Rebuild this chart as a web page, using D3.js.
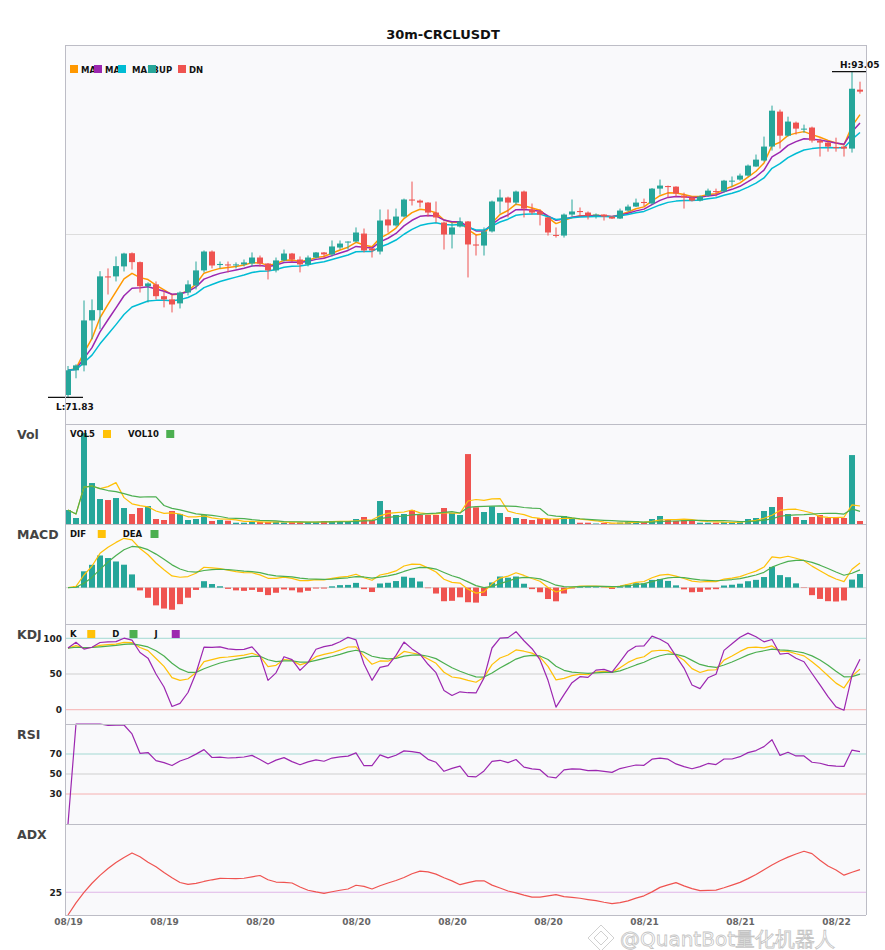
<!DOCTYPE html>
<html>
<head>
<meta charset="utf-8">
<script src="https://cdn.jsdelivr.net/npm/d3@7"></script>
<style>
  body { margin: 0; background: #fff; }
  text { font-family: "DejaVu Sans", sans-serif; }
</style>
</head>
<body>
<svg id="chart" width="885" height="950"></svg>
<script>
// ---- data (30m candles) ----
var opens = [
  71.98, 73.59, 73.91, 76.84, 77.51, 79.71, 79.71, 80.36, 81.22, 80.64,
  79.07, 79.19, 78.42, 78.21, 77.95, 78.66, 79.12, 80.10, 81.33, 80.45,
  80.49, 80.45, 80.49, 80.55, 80.94, 80.55, 80.10, 80.75, 81.20, 80.81,
  80.49, 80.94, 81.27, 81.14, 81.59, 81.95, 81.98, 82.50, 81.53, 81.33,
  83.42, 83.03, 83.61, 84.72, 84.65, 84.52, 83.87, 83.22, 82.44, 82.96,
  83.29, 81.79, 81.72, 82.64, 84.59, 84.85, 84.52, 85.24, 84.07, 83.94,
  83.55, 82.41, 82.37, 83.74, 83.97, 83.87, 83.68, 83.74, 83.61, 83.48,
  84.00, 84.26, 84.56, 84.46, 85.43, 85.60, 85.56, 84.98, 84.85, 84.65,
  84.98, 85.27, 85.24, 85.92, 86.02, 86.28, 86.87, 87.26, 88.17, 90.45,
  88.88, 89.73, 89.31, 89.41, 88.56, 88.43, 88.14, 88.17, 88.04, 91.88
];
var highs = [
  73.87, 73.98, 78.14, 78.21, 80.05, 80.23, 81.01, 81.25, 81.27, 80.68,
  79.32, 79.38, 78.73, 78.53, 78.73, 79.45, 80.68, 81.40, 81.40, 80.68,
  80.68, 80.62, 80.81, 81.27, 81.07, 80.58, 80.94, 81.46, 81.24, 81.01,
  81.07, 81.30, 81.30, 82.05, 82.05, 81.99, 82.90, 82.83, 81.56, 84.07,
  84.07, 84.13, 84.78, 85.89, 84.72, 84.55, 84.59, 83.29, 83.22, 83.55,
  83.32, 82.44, 82.90, 84.65, 85.37, 84.91, 85.30, 85.30, 84.46, 84.07,
  83.58, 82.90, 83.81, 84.72, 84.20, 83.94, 83.81, 83.76, 83.63, 84.13,
  84.39, 84.78, 84.78, 85.47, 86.02, 85.63, 85.58, 85.17, 84.91, 84.98,
  85.43, 85.43, 86.00, 86.22, 86.41, 87.00, 87.65, 88.82, 90.84, 90.58,
  90.12, 89.80, 89.60, 89.47, 88.69, 88.49, 88.75, 88.23, 93.05, 92.40
];
var lows = [
  71.83, 73.07, 73.52, 75.61, 76.26, 78.53, 79.38, 80.03, 80.16, 78.66,
  78.01, 78.21, 77.69, 77.36, 77.62, 78.47, 78.86, 79.97, 80.23, 80.23,
  79.97, 80.23, 80.36, 80.36, 80.36, 79.51, 79.97, 80.68, 80.62, 79.97,
  80.36, 80.88, 80.88, 81.01, 81.46, 81.46, 81.92, 81.27, 80.94, 81.14,
  82.57, 82.96, 83.55, 84.33, 84.20, 83.61, 83.22, 81.46, 81.53, 82.90,
  79.64, 81.07, 81.07, 82.57, 83.81, 83.55, 84.39, 83.55, 83.74, 83.03,
  82.37, 82.24, 82.24, 83.61, 83.61, 83.42, 83.48, 83.35, 83.45, 83.45,
  83.94, 84.23, 84.26, 84.39, 85.04, 84.85, 84.91, 84.13, 84.59, 84.59,
  84.91, 84.91, 85.17, 85.56, 85.95, 86.22, 86.85, 87.19, 87.91, 88.04,
  88.82, 88.95, 89.08, 88.43, 87.52, 87.84, 87.84, 87.52, 87.78, 91.62
];
var closes = [
  73.59, 73.91, 76.84, 77.51, 79.71, 79.64, 80.38, 81.20, 80.64, 79.07,
  79.25, 78.42, 78.21, 77.88, 78.66, 79.19, 80.10, 81.33, 80.42, 80.52,
  80.42, 80.49, 80.62, 80.94, 80.55, 80.10, 80.75, 81.20, 80.81, 80.49,
  80.94, 81.27, 81.14, 81.66, 81.85, 81.98, 82.57, 81.40, 81.40, 83.35,
  83.03, 83.61, 84.72, 84.65, 84.52, 83.87, 83.55, 82.44, 82.90, 83.29,
  81.79, 81.72, 82.64, 84.59, 84.85, 84.52, 85.24, 84.13, 83.87, 83.74,
  82.57, 82.37, 83.74, 83.94, 83.90, 83.68, 83.74, 83.61, 83.48, 84.00,
  84.26, 84.52, 84.49, 85.43, 85.63, 85.53, 85.11, 84.85, 84.65, 84.91,
  85.30, 85.21, 85.95, 85.95, 86.28, 86.93, 87.32, 88.17, 90.51, 88.88,
  89.80, 89.34, 89.34, 88.56, 88.43, 88.17, 88.07, 88.04, 91.94, 91.75
];
// volume in thousands
var volumes = [
  14, 6, 91, 41, 25, 24, 26, 16, 10, 16,
  18, 5, 4, 13, 10, 4, 5, 9, 3, 4,
  3.3, 1.3, 1.3, 3, 2, 2, 2, 1.5, 2, 2,
  2, 2, 3, 3, 3, 2, 5, 7, 4, 23,
  14, 9, 10, 14, 9, 9, 9, 16, 11, 9,
  70, 16.7, 12, 17.7, 11, 7, 6, 5, 4, 6,
  5, 5, 8, 5, 1.3, 1.3, 0.5, 1, 0.5, 1.5,
  2, 3, 2, 5, 8, 4, 3, 4, 3, 1.3,
  1.3, 1.3, 2, 2, 3, 5, 6, 13, 17, 27,
  10, 7, 4, 7, 9, 6, 6, 6, 69, 3
];
var tickIdx = [0, 12, 24, 36, 48, 60, 72, 84, 96];
var tickLabels = ["08/19", "08/19", "08/20", "08/20", "08/20", "08/20", "08/21", "08/21", "08/22"];
var maPeriods = [5, 8, 13];
var macdPeriods = [6, 13, 5];

// ---- indicator helpers ----
// recursive ema seeded with the first value
function ema(arr, n) {
  var a = 2 / (n + 1), out = [];
  arr.forEach(function (v, i) { out.push(i === 0 ? v : out[i - 1] + a * (v - out[i - 1])); });
  return out;
}
// weighted ema (pandas-style adjust=True)
function ewmAdj(arr, alpha) {
  var num = 0, den = 0;
  return arr.map(function (v) {
    num = v + (1 - alpha) * num; den = 1 + (1 - alpha) * den;
    return num / den;
  });
}
function sma(arr, n) {
  return arr.map(function (v, i) { return d3.mean(arr.slice(Math.max(0, i - n + 1), i + 1)); });
}

var N = closes.length;
var isUp = closes.map(function (c, i) { return c >= opens[i]; });
var maLines = maPeriods.map(function (p) { return ema(closes, p); });
var vol5 = sma(volumes, 5), vol10 = sma(volumes, 10);

var emaFast = ema(closes, macdPeriods[0]), emaSlow = ema(closes, macdPeriods[1]);
var dif = emaFast.map(function (v, i) { return v - emaSlow[i]; });
var dea = ema(dif, macdPeriods[2]);
var hist = dif.map(function (v, i) { return 2 * (v - dea[i]); });

var rsv = closes.map(function (c, i) {
  var lo = d3.min(lows.slice(Math.max(0, i - 8), i + 1)),
      hi = d3.max(highs.slice(Math.max(0, i - 8), i + 1));
  return hi === lo ? 50 : (c - lo) / (hi - lo) * 100;
});
var kLine = [], dLine = [], jLine = [];
rsv.forEach(function (r, i) {
  var k = i === 0 ? r : kLine[i - 1] * 2 / 3 + r / 3;
  var d = i === 0 ? k : dLine[i - 1] * 2 / 3 + k / 3;
  kLine.push(k); dLine.push(d); jLine.push(3 * k - 2 * d);
});

// RSI 14, weighted averages of gains / losses
var gains = [], losses = [];
for (var i = 1; i < N; i++) {
  var ch = closes[i] - closes[i - 1];
  gains.push(Math.max(ch, 0)); losses.push(Math.max(-ch, 0));
}
var ag = ewmAdj(gains, 1 / 14), al = ewmAdj(losses, 1 / 14);
var rsi = [0].concat(ag.map(function (g, i) { return al[i] === 0 ? 100 : 100 - 100 / (1 + g / al[i]); }));

var tr = [], pdm = [], mdm = [];
for (var i = 0; i < N; i++) {
  if (i === 0) { tr.push(highs[0] - lows[0]); pdm.push(0); mdm.push(0); continue; }
  var up = highs[i] - highs[i - 1], dn = lows[i - 1] - lows[i];
  pdm.push(up > dn && up > 0 ? up : 0);
  mdm.push(dn > up && dn > 0 ? dn : 0);
  tr.push(Math.max(highs[i] - lows[i], Math.abs(highs[i] - closes[i - 1]), Math.abs(lows[i] - closes[i - 1])));
}
var sTr = ema(tr, 14), sP = ema(pdm, 14), sM = ema(mdm, 14);
var dx = sTr.map(function (t, i) {
  var pdi = 100 * sP[i] / t, mdi = 100 * sM[i] / t, s = pdi + mdi;
  return s ? 100 * Math.abs(pdi - mdi) / s : 0;
});
var adx = ema(dx, 14);

// ---- layout ----
var LEFT = 65, RIGHT = 866;
var P = {
  main: [45, 424], vol: [424, 524], macd: [524, 624],
  kdj: [624, 724], rsi: [724, 824], adx: [824, 915]
};
var UP = "#26a69a", DN = "#ef5350";
var maColors = ["#ff9800", "#9c27b0", "#00bcd4"];

var svg = d3.select("#chart");
var x = d3.scaleLinear().domain([0, N - 1]).range([68, 860]);

// panel backgrounds
Object.keys(P).forEach(function (k) {
  svg.append("rect").attr("x", LEFT).attr("y", P[k][0])
    .attr("width", RIGHT - LEFT).attr("height", P[k][1] - P[k][0])
    .attr("fill", "#f9f9fb");
});

// title
svg.append("text").attr("x", 443).attr("y", 39).attr("text-anchor", "middle")
  .attr("font-size", 13).attr("font-weight", "bold").attr("fill", "#111")
  .text("30m-CRCLUSDT");

// panel labels
[["Vol", "vol"], ["MACD", "macd"], ["KDJ", "kdj"], ["RSI", "rsi"], ["ADX", "adx"]].forEach(function (d) {
  svg.append("text").attr("x", 17).attr("y", P[d[1]][0] + 15)
    .attr("font-size", 12.5).attr("font-weight", "bold").attr("fill", "#444").text(d[0]);
});

function hline(yv, color) {
  svg.append("line").attr("x1", LEFT).attr("x2", RIGHT).attr("y1", yv).attr("y2", yv)
    .attr("stroke", color).attr("stroke-width", 1);
}
function drawLine(data, yScale, color, w) {
  svg.append("path").datum(data)
    .attr("fill", "none").attr("stroke", color).attr("stroke-width", w || 1.2)
    .attr("stroke-linejoin", "round")
    .attr("d", d3.line().x(function (d, i) { return x(i); }).y(function (d) { return yScale(d); }));
}
// label first, colour box after it (box offset grows with label length)
function legend(top, items) {
  var cx = 70;
  items.forEach(function (it) {
    svg.append("text").attr("x", cx).attr("y", top + 13)
      .attr("font-size", 8.5).attr("font-weight", "bold").attr("fill", "#111").text(it[0]);
    var bx = cx + 12 + 5.25 * it[0].length;
    svg.append("rect").attr("x", bx).attr("y", top + 6).attr("width", 8).attr("height", 8)
      .attr("fill", it[1]);
    cx = bx + 25;
  });
}
function yAxis(scale, vals) {
  var g = svg.append("g").attr("transform", "translate(" + LEFT + ",0)")
    .call(d3.axisLeft(scale).tickValues(vals).tickSize(0).tickPadding(3));
  g.select(".domain").remove();
  g.selectAll("text").attr("font-size", 9).attr("font-weight", "bold").attr("fill", "#222")
    .attr("font-family", "DejaVu Sans");
}

// ---- main price panel ----
var lo = d3.min(lows), hi = d3.max(highs), pad = (hi - lo) * 0.082;
var yMain = d3.scaleLinear().domain([lo - pad, hi + pad]).range([P.main[1], P.main[0]]);
hline(yMain((lo + hi) / 2), "#dddddd");

maLines.forEach(function (m, k) { drawLine(m, yMain, maColors[k], 1.5); });

var candles = svg.append("g");
d3.range(N).forEach(function (i) {
  var c = isUp[i] ? UP : DN;
  candles.append("line").attr("x1", x(i)).attr("x2", x(i))
    .attr("y1", yMain(highs[i])).attr("y2", yMain(lows[i]))
    .attr("stroke", c).attr("stroke-width", 1);
  var y0 = yMain(Math.max(opens[i], closes[i])), y1 = yMain(Math.min(opens[i], closes[i]));
  candles.append("rect").attr("x", x(i) - 3).attr("y", y0)
    .attr("width", 6).attr("height", Math.max(1, y1 - y0)).attr("fill", c);
});

// high / low markers
var iHi = highs.indexOf(hi), iLo = lows.indexOf(lo);
[[iHi, hi, "H:", -4], [iLo, lo, "L:", 12.5]].forEach(function (m) {
  var xx = x(m[0]), yy = yMain(m[1]);
  svg.append("line").attr("x1", xx - 20).attr("x2", xx + 15).attr("y1", yy).attr("y2", yy)
    .attr("stroke", "#111").attr("stroke-width", 1.2);
  svg.append("text").attr("x", xx - 12).attr("y", yy + m[3])
    .attr("font-size", 9).attr("font-weight", "bold").attr("fill", "#111")
    .text(m[2] + m[1].toFixed(2));
});

// main legend (entries overlap like the original)
var mainLegend = [["MA5", maColors[0]], ["MA8", maColors[1]], ["MA13", maColors[2]], ["UP", UP], ["DN", DN]];
var legOff = [0, 24, 48, 78, 108];
mainLegend.forEach(function (it, k) {
  svg.append("text").attr("x", 81 + legOff[k] + (k === 2 ? 3 : 0)).attr("y", 72.5)
    .attr("font-size", 8.5).attr("font-weight", "bold").attr("fill", "#111").text(it[0]);
});
mainLegend.forEach(function (it, k) {
  svg.append("rect").attr("x", 70 + legOff[k]).attr("y", 65).attr("width", 8).attr("height", 8)
    .attr("fill", it[1]);
});

// ---- volume ----
var yVol = d3.scaleLinear().domain([0, d3.max(volumes) * 1.1]).range([P.vol[1], P.vol[0]]);
svg.append("g").selectAll("rect").data(volumes).enter().append("rect")
  .attr("x", function (d, i) { return x(i) - 3; })
  .attr("y", function (d) { return yVol(d); })
  .attr("width", 6)
  .attr("height", function (d) { return yVol(0) - yVol(d); })
  .attr("fill", function (d, i) { return isUp[i] ? UP : DN; });
drawLine(vol5, yVol, "#ffc107");
drawLine(vol10, yVol, "#4caf50");
legend(P.vol[0], [["VOL5", "#ffc107"], ["VOL10", "#4caf50"]]);

// ---- MACD ----
var mExt = d3.extent(dif.concat(dea, hist)), mPad = (mExt[1] - mExt[0]) * 0.2;
var yMacd = d3.scaleLinear().domain([mExt[0] - mPad, mExt[1] + mPad]).range([P.macd[1], P.macd[0]]);
hline(yMacd(0), "#d6d6d6");
svg.append("g").selectAll("rect").data(hist).enter().append("rect")
  .attr("x", function (d, i) { return x(i) - 3; })
  .attr("y", function (d) { return yMacd(Math.max(0, d)); })
  .attr("width", 6)
  .attr("height", function (d) { return Math.abs(yMacd(d) - yMacd(0)); })
  .attr("fill", function (d) { return d >= 0 ? UP : DN; });
drawLine(dif, yMacd, "#ffc107");
drawLine(dea, yMacd, "#4caf50");
legend(P.macd[0], [["DIF", "#ffc107"], ["DEA", "#4caf50"]]);

// ---- KDJ ----
var yKdj = d3.scaleLinear().domain([-20, 120]).range([P.kdj[1], P.kdj[0]]);
hline(yKdj(100), "#a3d9d3"); hline(yKdj(50), "#cfcfcf"); hline(yKdj(0), "#f6b0b0");
drawLine(kLine, yKdj, "#ffc107");
drawLine(dLine, yKdj, "#4caf50");
drawLine(jLine, yKdj, "#9c27b0");
legend(P.kdj[0], [["K", "#ffc107"], ["D", "#4caf50"], ["J", "#9c27b0"]]);
yAxis(yKdj, [0, 50, 100]);

// ---- RSI ----
var yRsi = d3.scaleLinear().domain([0, 100]).range([P.rsi[1], P.rsi[0]]);
hline(yRsi(70), "#a3d9d3"); hline(yRsi(50), "#cfcfcf"); hline(yRsi(30), "#f6b0b0");
drawLine(rsi, yRsi, "#9c27b0");
yAxis(yRsi, [30, 50, 70]);

// ---- ADX ----
var yAdx = d3.scaleLinear().domain([0, 100]).range([P.adx[1], P.adx[0]]);
hline(yAdx(25), "#dfb6e8");
drawLine(adx, yAdx, "#ef5350");
yAxis(yAdx, [25]);

// ---- frames ----
var frame = svg.append("g").attr("stroke", "#bdbdc6").attr("stroke-width", 1).attr("fill", "none")
  .attr("shape-rendering", "crispEdges");
Object.keys(P).forEach(function (k) {
  frame.append("line").attr("x1", LEFT).attr("x2", RIGHT).attr("y1", P[k][0] + 0.5).attr("y2", P[k][0] + 0.5);
});
frame.append("line").attr("x1", LEFT).attr("x2", RIGHT).attr("y1", P.adx[1] + 0.5).attr("y2", P.adx[1] + 0.5);
frame.append("line").attr("x1", LEFT + 0.5).attr("x2", LEFT + 0.5).attr("y1", P.main[0]).attr("y2", P.adx[1]);
frame.append("line").attr("x1", RIGHT + 0.5).attr("x2", RIGHT + 0.5).attr("y1", P.main[0]).attr("y2", P.adx[1]);

// ---- x axis ----
var xa = svg.append("g").attr("transform", "translate(0," + P.adx[1] + ")")
  .call(d3.axisBottom(x).tickValues(tickIdx)
    .tickFormat(function (d, i) { return tickLabels[i]; }).tickSize(0).tickPadding(4));
xa.select(".domain").remove();
xa.selectAll("text").attr("font-size", 9).attr("font-weight", "bold").attr("fill", "#666")
  .attr("font-family", "DejaVu Sans");

// ---- watermark (kept just under the date labels) ----
var wm = svg.append("g").attr("fill", "#ffffff").attr("fill-opacity", 0.75)
  .attr("stroke", "#c4c4c4").attr("stroke-width", 0.8);
wm.append("path").attr("d", "M601,925 L614,938 L601,951 L588,938 Z M601,931 L608,938 L601,945 L594,938 Z");
wm.append("text").attr("x", 620).attr("y", 946).attr("font-size", 20)
  .attr("font-family", "'Noto Sans CJK SC', 'Noto Sans', sans-serif")
  .text("@QuantBot量化机器人");
</script>
</body>
</html>
